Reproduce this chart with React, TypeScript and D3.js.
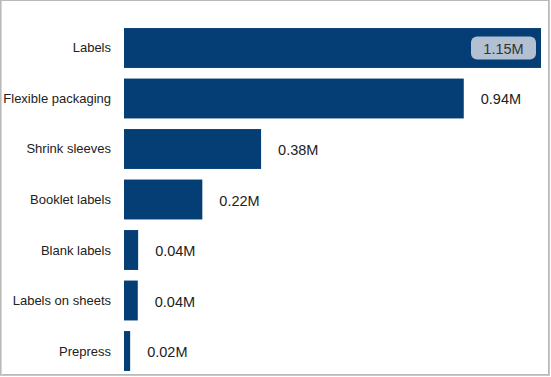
import React from "react";
import * as d3 from "d3";

const categories = ["Labels", "Flexible packaging", "Shrink sleeves", "Booklet labels", "Blank labels", "Labels on sheets", "Prepress"];
const values = [1.15, 0.937, 0.378, 0.216, 0.039, 0.038, 0.017];
const valueLabels = ["1.15M", "0.94M", "0.38M", "0.22M", "0.04M", "0.04M", "0.02M"];

export default function App() {
  const W = 551, H = 377;
  const x = d3.scaleLinear().domain([0, 1.15]).range([124, 541]);
  const y = d3.scaleBand<string>().domain(categories).range([23, 376]).paddingInner(0.21).paddingOuter(0.1);
  const bw = y.bandwidth();
  return (
    <svg width={W} height={H} style={{ position: "absolute", left: 0, top: 0, fontFamily: "Arial, 'Liberation Sans', sans-serif" }}>
      <rect x={0} y={0} width={W} height={H} fill="#ffffff" />
      <rect x={0.5} y={0.5} width={548} height={374} fill="none" stroke="#b9b9b9" strokeWidth={1} />
      <line x1={549.5} y1={0} x2={549.5} y2={376} stroke="#c8c8c8" strokeWidth={1} />
      <line x1={0} y1={375.5} x2={550} y2={375.5} stroke="#c8c8c8" strokeWidth={1} />
      <line x1={1.5} y1={1} x2={1.5} y2={375} stroke="#d8d8d8" strokeWidth={1} />
      {categories.map((c, i) => {
        const yy = y(c)!;
        const x1 = x(values[i]);
        const inside = i === 0;
        const cy = yy + bw / 2;
        return (
          <g key={c}>
            <text x={111} y={cy} textAnchor="end" dominantBaseline="central" fontSize={13} fill="#222">{c}</text>
            <rect x={x(0)} y={yy} width={x1 - x(0)} height={bw} fill="#043e75" />
            {inside ? (
              <g>
                <rect x={x1 - 70} y={cy - 11.5} width={65} height={23} rx={6} fill="#b2c0d2" />
                <text x={x1 - 37.5} y={cy + 1} textAnchor="middle" dominantBaseline="central" fontSize={14.5} fill="#333">{valueLabels[i]}</text>
              </g>
            ) : (
              <text x={x1 + 17} y={cy + 1} dominantBaseline="central" fontSize={14.5} fill="#222">{valueLabels[i]}</text>
            )}
          </g>
        );
      })}
    </svg>
  );
}
